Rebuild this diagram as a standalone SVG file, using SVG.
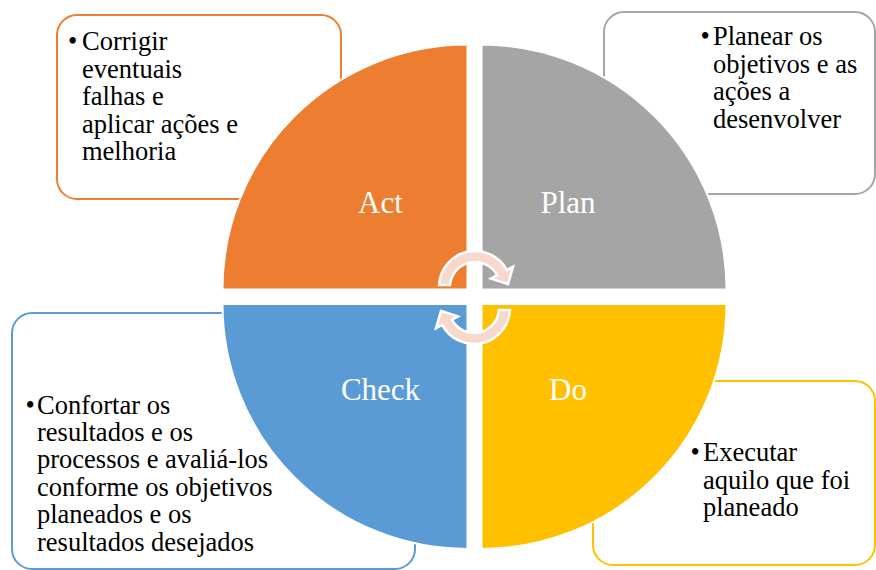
<svg xmlns="http://www.w3.org/2000/svg" width="876" height="570" viewBox="0 0 876 570">
<style>
.box{fill:#FFFFFF;stroke-width:2}
.txt{font-family:"Liberation Serif","Times New Roman",serif;font-size:26.5px;fill:#000000}
.lbl{font-family:"Liberation Serif","Times New Roman",serif;font-size:31px;fill:#FFFFFF;text-anchor:middle}
.quad{stroke:#FFFFFF;stroke-width:2}
.arr{fill:#F8D7CC;stroke:#FFFFFF;stroke-width:2.5;stroke-linejoin:miter}
</style>
<rect width="876" height="570" fill="#FFFFFF"/>
<g id="box-act">
<rect class="box" x="57" y="15" width="284" height="184" rx="20" stroke="#ED7D31"/>
<text class="txt" font-family="Liberation Serif, serif" font-size="26.5"><tspan x="68" y="50">•</tspan><tspan x="82" y="50">Corrigir</tspan><tspan x="82" y="77.6">eventuais</tspan><tspan x="82" y="105.2">falhas e</tspan><tspan x="82" y="132.8">aplicar ações e</tspan><tspan x="82" y="160.4">melhoria</tspan></text>
</g>
<g id="box-plan">
<rect class="box" x="604" y="12" width="271" height="182" rx="20" stroke="#A5A5A5"/>
<text class="txt" font-family="Liberation Serif, serif" font-size="26.5"><tspan x="700.5" y="45">•</tspan><tspan x="713" y="45">Planear os</tspan><tspan x="713" y="72.6">objetivos e as</tspan><tspan x="713" y="100.2">ações a</tspan><tspan x="713" y="127.8">desenvolver</tspan></text>
</g>
<g id="box-check">
<rect class="box" x="12" y="313" width="403" height="256" rx="20" stroke="#5B9BD5"/>
<text class="txt" font-family="Liberation Serif, serif" font-size="26.5"><tspan x="25.5" y="413.5">•</tspan><tspan x="37" y="413.5">Confortar os</tspan><tspan x="37" y="440.9">resultados e os</tspan><tspan x="37" y="468.3">processos e avaliá-los</tspan><tspan x="37" y="495.7">conforme os objetivos</tspan><tspan x="37" y="523.1">planeados e os</tspan><tspan x="37" y="550.5">resultados desejados</tspan></text>
</g>
<g id="box-do">
<rect class="box" x="593" y="381" width="282" height="184" rx="20" stroke="#FFC000"/>
<text class="txt" font-family="Liberation Serif, serif" font-size="26.5"><tspan x="690.5" y="461">•</tspan><tspan x="703" y="461">Executar</tspan><tspan x="703" y="488.5">aquilo que foi</tspan><tspan x="703" y="516">planeado</tspan></text>
</g>
<g id="act">
<path class="quad" fill="#ED7D31" d="M467.5 289.5 L222.5 289.5 A245 245 0 0 1 467.5 44.5 Z"/>
<text class="lbl" x="380.5" y="213">Act</text>
</g>
<g id="plan">
<path class="quad" fill="#A5A5A5" d="M481.5 289.5 L481.5 44.5 A245 245 0 0 1 726.5 289.5 Z"/>
<text class="lbl" x="568" y="213">Plan</text>
</g>
<g id="check">
<path class="quad" fill="#5B9BD5" d="M467.5 304 L467.5 549 A245 245 0 0 1 222.5 304 Z"/>
<text class="lbl" x="380.5" y="400">Check</text>
</g>
<g id="do">
<path class="quad" fill="#FFC000" d="M481.5 304 L726.5 304 A245 245 0 0 1 481.5 549 Z"/>
<text class="lbl" x="568" y="400">Do</text>
</g>
<g id="connectors">
<path id="arrow-top" class="arr" d="M439.06 285 A36 36 0 0 1 506.8 270.1 L513 266.8 L508 284.2 L490.9 278.6 L497.1 275.3 A25 25 0 0 0 450.08 285 Z"/>
<path id="arrow-bottom" class="arr" transform="rotate(180 474.5 297.5)" d="M439.06 285 A36 36 0 0 1 506.8 270.1 L513 266.8 L508 284.2 L490.9 278.6 L497.1 275.3 A25 25 0 0 0 450.08 285 Z"/>
</g>
</svg>
